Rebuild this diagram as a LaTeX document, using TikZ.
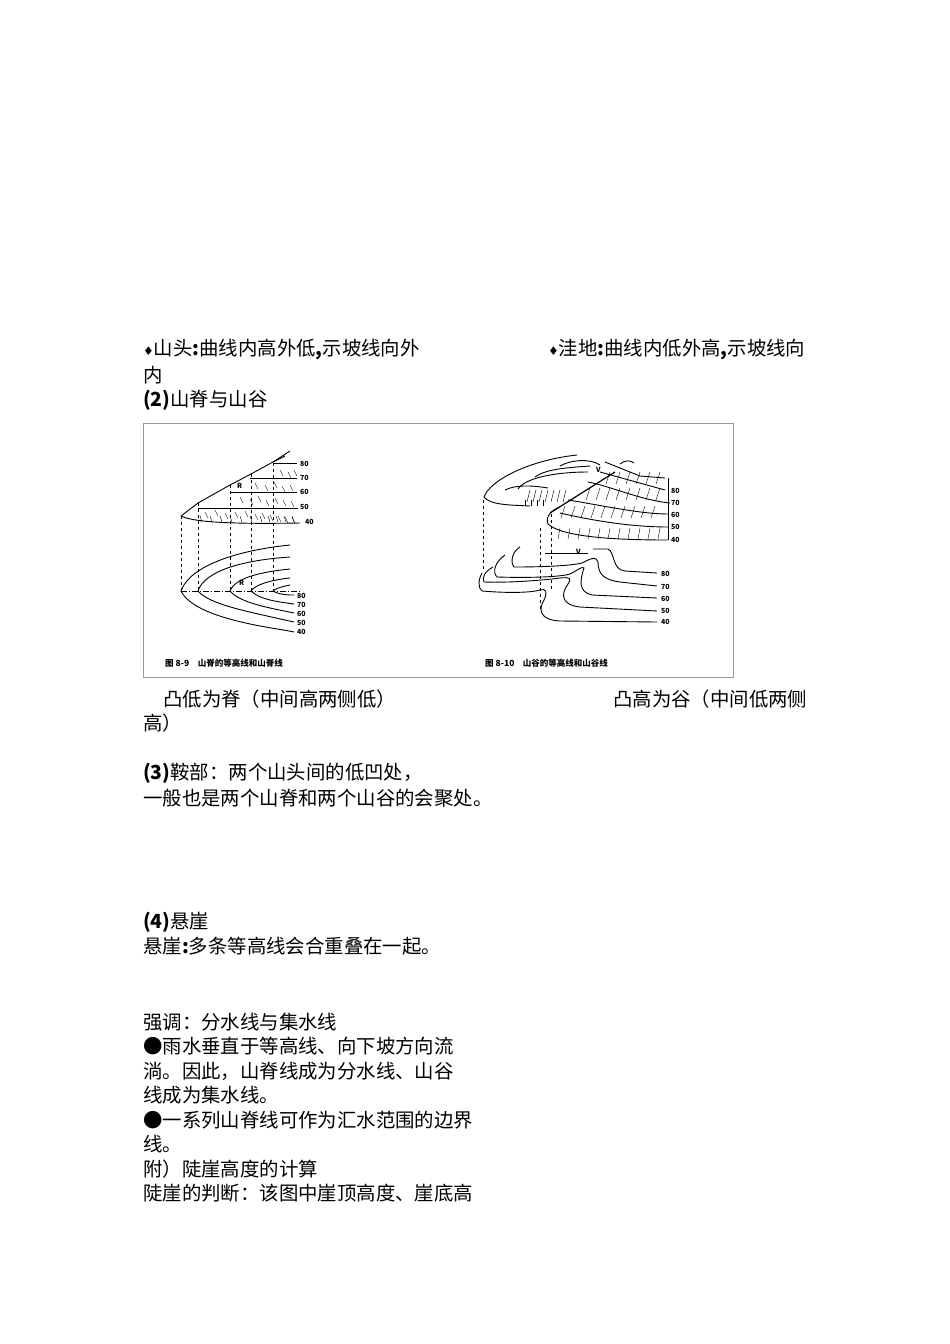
\documentclass[tikz,border=0pt]{standalone}
\usepackage{fontspec}
\setmainfont{Noto Sans CJK SC}
\newfontfamily\dvs{DejaVu Sans}
\begin{document}
\begin{tikzpicture}[x=1pt,y=-1pt,
  txt/.style={anchor=west,inner sep=0pt,font=\fontsize{19.4}{21}\selectfont},
  num/.style={anchor=west,inner sep=0pt,font=\fontsize{7}{8}\selectfont\bfseries},
  capt/.style={anchor=west,inner sep=0pt,font=\fontsize{8.5}{9}\selectfont\bfseries},
  cl/.style={line width=0.9pt},
  dl/.style={dashed,line width=0.8pt},
  hl/.style={line width=0.4pt}]
\useasboundingbox (0,0) rectangle (950,1344);
% text
\node[txt] (t1) at (143,350) {{\dvs\fontsize{12}{12}\selectfont ♦}山头\textbf{:}曲线内高外低\textbf{,}示坡线向外};
\node[txt] (t2) at (548,350) {{\dvs\fontsize{12}{12}\selectfont ♦}洼地\textbf{:}曲线内低外高\textbf{,}示坡线向};
\node[txt] (t3) at (143,375) {内};
\node[txt] (t4) at (143,400) {\textbf{(2)}山脊与山谷};
\node[txt] (t5) at (163,699) {凸低为脊（中间高两侧低）};
\node[txt] (t6) at (613,699) {凸高为谷（中间低两侧};
\node[txt] (t7) at (143,723) {高）};
\node[txt] (t8) at (143,773) {\textbf{(3)}鞍部：两个山头间的低凹处，};
\node[txt] (t9) at (143,798) {一般也是两个山脊和两个山谷的会聚处。};
\node[txt] (t10) at (143,922) {\textbf{(4)}悬崖};
\node[txt] (t11) at (143,946) {悬崖\textbf{:}多条等高线会合重叠在一起。};
\node[txt] (t12) at (143,1022) {强调：分水线与集水线};
\node[txt] (t13) at (143,1046) {●雨水垂直于等高线、向下坡方向流};
\node[txt] (t14) at (143,1071) {淌。因此，山脊线成为分水线、山谷};
\node[txt] (t15) at (143,1095) {线成为集水线。};
\node[txt] (t16) at (143,1120) {●一系列山脊线可作为汇水范围的边界};
\node[txt] (t17) at (143,1144) {线。};
\node[txt] (t18) at (143,1169) {附）陡崖高度的计算};
\node[txt] (t19) at (143,1193) {陡崖的判断：该图中崖顶高度、崖底高};
% figure frame
\draw[gray!80,line width=0.7pt] (143,423) rectangle (733,677);
\node[capt] (c1) at (165,663) {图 8-9\quad 山脊的等高线和山脊线};
\node[capt] (c2) at (485,663) {图 8-10\quad 山谷的等高线和山谷线};
% ---- left figure
\draw[cl] (181,516) -- (198,503) -- (230,485) -- (251,474) -- (273,462) -- (290,451);
\draw[cl] (273,462) -- (285,456);
\draw[cl] (273,463) -- (297,463);
\draw[cl] (250,478) -- (297,478);
\draw[cl] (230,492) -- (297,492);
\draw[cl] (198,508) -- (298,508);
\draw[cl] (181,516) .. controls (195,523) and (240,524) .. (300,523);
\foreach \x/\y in {205/512,215/510,225/513,235/512,245/511,255/514,262/513,270/515,278/516,285/517,292/517,
  240/497,250/499,258/496,266/500,275/498,283/500,291/501,
  255/483,265/485,274/482,282/486,290/485,280/470,288/472,294/470}
  \draw[hl] (\x,\y) -- ++(3,6);
\foreach \x in {200,210,220,230,240,250,260,268,276,284,292}
  \draw[hl] (\x,516) -- ++(2,6);
\foreach \x/\t in {181/516,198/503,230/485,251/474,273/463}
  \draw[dl] (\x,\t) -- (\x,590);
\draw[line width=0.8pt,dash pattern=on 6pt off 2pt on 1pt off 2pt] (181,591) -- (300,591);
\draw[cl] (290,545) .. controls (240,550) and (190,565) .. (181,591) .. controls (190,610) and (230,620) .. (255,625) .. controls (270,628) and (285,630) .. (294,632);
\draw[cl] (290,557) .. controls (245,560) and (205,570) .. (198,591) .. controls (210,605) and (250,612) .. (294,622);
\draw[cl] (290,569) .. controls (260,572) and (235,578) .. (230,591) .. controls (240,603) and (270,608) .. (294,613);
\draw[cl] (290,578) .. controls (270,580) and (255,585) .. (251,591) .. controls (260,600) and (280,602) .. (294,604);
\draw[cl] (290,585) .. controls (280,587) and (275,589) .. (273,591) .. controls (280,595) and (288,595) .. (294,595);
\node[num] (r1) at (237,486) {R};
\node[num] (r2) at (239,583) {R};
\node[num] (l80) at (300,464) {80};
\node[num] (l70) at (300,478) {70};
\node[num] (l60) at (300,492) {60};
\node[num] (l50) at (300,507) {50};
\node[num] (l40) at (305,522) {40};
\node[num] (b80) at (297,596) {80};
\node[num] (b70) at (297,605) {70};
\node[num] (b60) at (297,614) {60};
\node[num] (b50) at (297,623) {50};
\node[num] (b40) at (297,632) {40};
% ---- right figure (3D)
\draw[cl] (484,497) .. controls (490,480) and (530,460) .. (577,455);
\draw[cl] (484,497) .. controls (490,505) and (510,505) .. (530,506);
\draw[cl] (518,489) .. controls (525,478) and (555,472) .. (588,472);
\draw[cl] (505,490) .. controls (515,485) and (530,485) .. (548,488);
\draw[cl] (535,477) .. controls (545,470) and (560,468) .. (590,466);
\draw[cl] (560,466) .. controls (570,460) and (590,458) .. (600,465);
\draw[cl] (620,464) .. controls (625,460) and (630,460) .. (634,463);
\draw[cl] (605,462) -- (640,476) -- (665,478);
\draw[cl] (600,472) -- (665,490);
\draw[cl] (588,482) .. controls (610,486) and (640,500) .. (670,503);
\draw[cl] (568,500) .. controls (600,505) and (640,514) .. (668,514);
\draw[cl] (560,513) .. controls (590,520) and (630,527) .. (668,527);
\draw[cl] (548,524) .. controls (560,535) and (600,540) .. (668,540);
\draw[cl] (548,524) .. controls (545,516) and (552,510) .. (560,507);
\draw[cl] (668,478) -- (668,540);
\draw[line width=1.2pt] (615,472) -- (550,513);
\foreach \x in {560,570,...,660} \draw[hl] (\x,528) -- ++(-2,11);
\foreach \x in {565,575,...,655} \draw[hl] (\x,506) -- ++(-4,12);
\foreach \x in {590,600,...,660} \draw[hl] (\x,488) -- ++(-4,12);
\foreach \x in {610,620,...,660} \draw[hl] (\x,472) -- ++(-4,12);
\foreach \x in {530,536,...,570} \draw[hl] (\x,490) -- ++(-3,12);
\foreach \x in {525,531,...,545} \draw[hl] (\x,500) -- ++(0,6);
\node[num] (v1) at (596,470) {V};
\node[num] (v2) at (576,552) {V};
\draw[dl] (483,500) -- (483,570);
\draw[dl] (551,514) -- (551,590);
\draw[dl] (540,528) -- (540,610);
% ---- right figure (map)
\draw[cl] (545,553) -- (588,553);
\draw[cl] (593,549) -- (608,549) .. controls (615,552) and (612,570) .. (625,571) -- (657,573);
\draw[cl] (520,547) .. controls (512,552) and (510,562) .. (514,567) .. controls (540,567) and (570,566) .. (582,563) .. controls (592,558) and (596,556) .. (598,562) .. controls (598,575) and (605,580) .. (620,582) -- (657,586);
\draw[cl] (505,555) .. controls (495,562) and (492,572) .. (497,577) .. controls (530,578) and (560,577) .. (570,574) .. controls (578,570) and (582,566) .. (584,568) .. controls (580,580) and (578,592) .. (592,595) -- (657,598);
\draw[cl] (493,567) .. controls (484,572) and (482,578) .. (484,582) .. controls (510,583) and (545,580) .. (560,578) .. controls (570,577) and (572,578) .. (568,584) .. controls (560,595) and (562,605) .. (580,607) -- (657,611);
\draw[cl] (482,573) .. controls (478,580) and (478,588) .. (482,591) .. controls (505,593) and (530,593) .. (540,590) .. controls (546,588) and (548,592) .. (544,600) .. controls (538,610) and (540,620) .. (560,621) -- (657,622);
\node[num] (rb80) at (661,574) {80};
\node[num] (rb70) at (661,587) {70};
\node[num] (rb60) at (661,599) {60};
\node[num] (rb50) at (661,611) {50};
\node[num] (rb40) at (661,622) {40};
\node[num] (rl80) at (671,491) {80};
\node[num] (rl70) at (671,503) {70};
\node[num] (rl60) at (671,515) {60};
\node[num] (rl50) at (671,527) {50};
\node[num] (rl40) at (671,540) {40};
\end{tikzpicture}
\end{document}
